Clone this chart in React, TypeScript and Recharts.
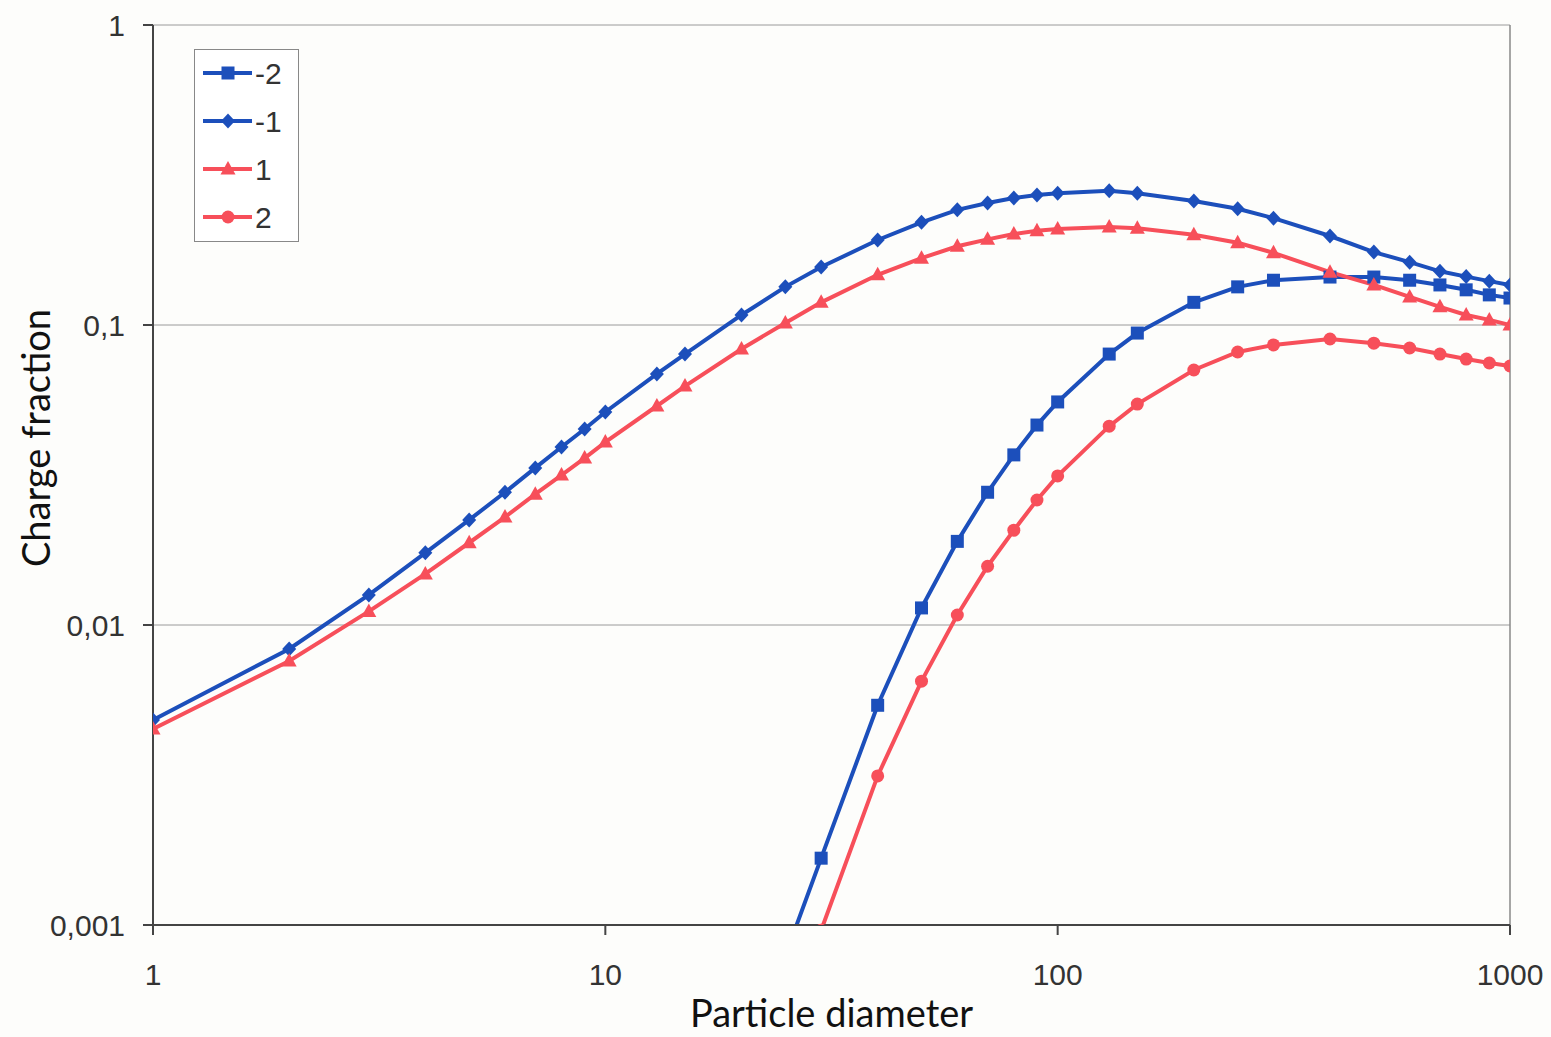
import React from "react";
import {
  LineChart, Line, XAxis, YAxis, CartesianGrid, Legend, ReferenceLine, Label
} from "recharts";

// particle diameter (x) and charge fraction for each charge state
const DIAMETERS = [1, 2, 3, 4, 5, 6, 7, 8, 9, 10, 13, 15, 20, 25, 30, 40, 50, 60, 70, 80, 90, 100, 130, 150, 200, 250, 300, 400, 500, 600, 700, 800, 900, 1000];

const CHARGE_M2 = [null, null, null, null, null, null, null, null, null, null, null, null, null,
  0.00079, 0.00167, 0.0054, 0.0114, 0.019, 0.0277, 0.0369, 0.0464, 0.0554, 0.080, 0.094, 0.119, 0.134, 0.141, 0.1445, 0.1445, 0.141, 0.136, 0.131, 0.126, 0.123];
const CHARGE_M1 = [0.00482, 0.00832, 0.0126, 0.0174, 0.0224, 0.0277, 0.0334, 0.0392, 0.045, 0.0513, 0.0687, 0.080, 0.108, 0.134, 0.156, 0.192, 0.22, 0.242, 0.255, 0.265, 0.271, 0.275, 0.28, 0.275, 0.259, 0.244, 0.227, 0.198, 0.175, 0.162, 0.151, 0.145, 0.140, 0.136];
const CHARGE_P1 = [0.0045, 0.00759, 0.0111, 0.0148, 0.0188, 0.0229, 0.0273, 0.0316, 0.036, 0.0407, 0.0537, 0.0626, 0.0832, 0.1016, 0.119, 0.147, 0.167, 0.183, 0.193, 0.201, 0.206, 0.209, 0.212, 0.21, 0.2, 0.188, 0.174, 0.150, 0.136, 0.124, 0.115, 0.108, 0.104, 0.1];
const CHARGE_P2 = [null, null, null, null, null, null, null, null, null, null, null, null, null, null,
  0.00096, 0.00314, 0.0065, 0.0108, 0.0157, 0.0207, 0.0261, 0.0314, 0.046, 0.0545, 0.0708, 0.0813, 0.0858, 0.0898, 0.087, 0.0838, 0.080, 0.077, 0.0747, 0.073];

const X_TICKS = [1, 10, 100, 1000];
const Y_TICKS = [0.001, 0.01, 0.1, 1];

const BLUE = "#1c4fbb";
const RED = "#f74f5a";

const SERIES = [
  { key: "m2", name: "-2", color: BLUE, shape: "square", values: CHARGE_M2 },
  { key: "m1", name: "-1", color: BLUE, shape: "diamond", values: CHARGE_M1 },
  { key: "p1", name: "1", color: RED, shape: "triangle", values: CHARGE_P1 },
  { key: "p2", name: "2", color: RED, shape: "circle", values: CHARGE_P2 },
];

const rows = DIAMETERS.map((d, i) => {
  const row: any = { d };
  SERIES.forEach((s) => { row[s.key] = s.values[i]; });
  return row;
});

function Marker({ shape, x, y, color }: { shape: string; x: number; y: number; color: string }) {
  if (shape === "square") return <rect x={x - 6.5} y={y - 6.5} width={13} height={13} fill={color} />;
  if (shape === "diamond") return <polygon points={`${x},${y - 7.5} ${x + 7},${y} ${x},${y + 7.5} ${x - 7},${y}`} fill={color} />;
  if (shape === "triangle") return <polygon points={`${x},${y - 8} ${x + 7.5},${y + 5.5} ${x - 7.5},${y + 5.5}`} fill={color} />;
  return <circle cx={x} cy={y} r={6.5} fill={color} />;
}

const makeDot = (shape: string, color: string) => (props: any) => {
  const { cx, cy, index } = props;
  if (cx == null || cy == null || isNaN(cy)) return <g key={`e-${index}`} />;
  return <g key={`d-${index}`}><Marker shape={shape} x={cx} y={cy} color={color} /></g>;
};

const fmt = (v: number) => String(v).replace(".", ",");

function LegendBox() {
  return (
    <svg width={105} height={193} style={{ display: "block" }}>
      <rect x={0.5} y={0.5} width={104} height={192} fill="#fff" stroke="#888" />
      {SERIES.map((s, i) => {
        const y = 24 + i * 48;
        return (
          <g key={s.key}>
            <line x1={9} x2={58} y1={y} y2={y} stroke={s.color} strokeWidth={4} />
            <Marker shape={s.shape} x={34} y={y} color={s.color} />
            <text x={61} y={y} dy="0.36em" fontSize={30} fill="#333" fontFamily="'Liberation Sans', Arial, sans-serif">{s.name}</text>
          </g>
        );
      })}
    </svg>
  );
}

const tickStyle = { fontSize: 30, fill: "#333", fontFamily: "'Liberation Sans', Arial, sans-serif" };
const titleFont = "Lato, 'Open Sans', sans-serif";

const YTitle = () => (
  <text
    x={35} y={438} transform="rotate(-90, 35, 438)" textAnchor="middle" dominantBaseline="central"
    fontSize={38} fill="#111" fontFamily={titleFont}
  >
    Charge fraction
  </text>
);

export default function App() {
  return (
    <div style={{ position: "absolute", left: 0, top: 0, background: "#fdfdfb" }}>
      <LineChart width={1551} height={1037} data={rows} margin={{ top: 25, right: 41, bottom: 62, left: 83 }}>
        <CartesianGrid vertical={false} stroke="#9a9a9a" strokeWidth={1} />
        <ReferenceLine x={1000} stroke="#888" strokeWidth={1.5} />
        <XAxis
          dataKey="d" type="number" scale="log" domain={[1, 1000]} ticks={X_TICKS}
          stroke="#444" strokeWidth={2} tickSize={10} tickMargin={29} tick={tickStyle}
          allowDataOverflow height={50}
        >
          <Label value="Particle diameter" position="insideBottom" offset={-52}
            style={{ fontSize: 38, fill: "#111", fontFamily: titleFont }} />
        </XAxis>
        <YAxis
          type="number" scale="log" domain={[0.001, 1]} ticks={Y_TICKS} tickFormatter={fmt}
          stroke="#444" strokeWidth={2} tickSize={10} tickMargin={18} tick={tickStyle}
          allowDataOverflow width={70}
        >
          <Label content={YTitle} />
        </YAxis>
        <Legend
          layout="vertical" align="center" verticalAlign="middle"
          content={() => <LegendBox />}
          wrapperStyle={{ position: "absolute", left: 194, top: 49, width: "auto" }}
        />
        {SERIES.map((s) => (
          <Line
            key={s.key} dataKey={s.key} name={s.name} type="linear"
            stroke={s.color} strokeWidth={4}
            dot={makeDot(s.shape, s.color)} activeDot={false}
            isAnimationActive={false}
          />
        ))}
      </LineChart>
    </div>
  );
}
